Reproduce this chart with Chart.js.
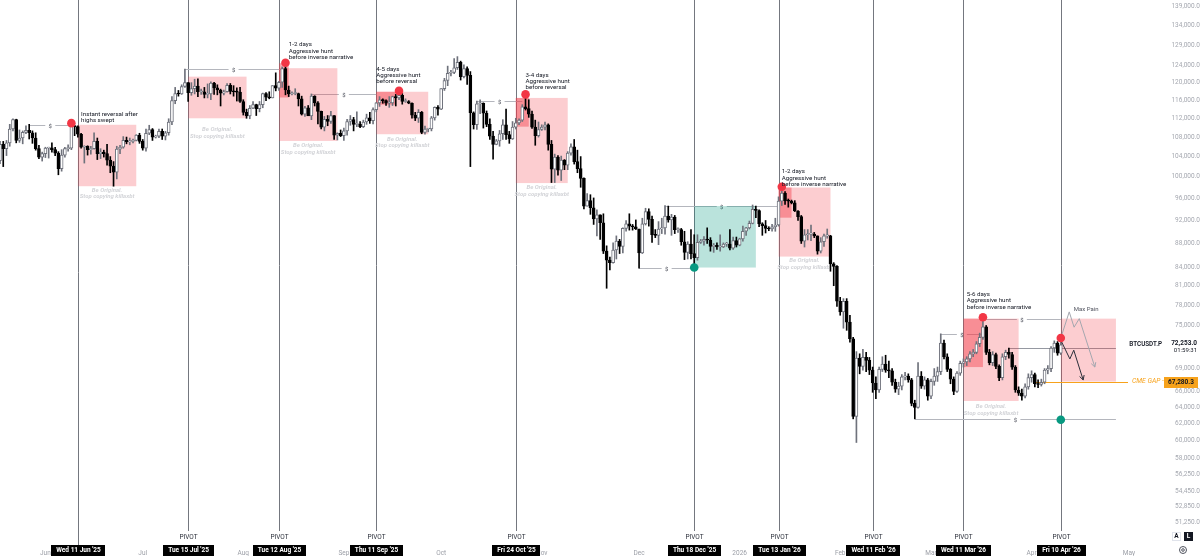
<!DOCTYPE html>
<html><head><meta charset="utf-8">
<script src="https://cdn.jsdelivr.net/npm/chart.js@4.4.1/dist/chart.umd.min.js"></script>
<style>html,body{margin:0;padding:0;background:#fff;overflow:hidden}canvas{display:block}</style>
</head><body>
<canvas id="c" width="1200" height="556"></canvas>
<script>
// ---------- DATA (prices in thousands of USD, daily candles [open, high, low, close]) ----------
const firstCandleDate = '2025-05-18';
const may25 = [[103.2,107.1,102.6,106.5],[106.5,107.1,102.0,105.6],[105.6,107.3,104.2,106.8],[106.8,110.7,106.1,109.7],[109.7,111.9,109.3,111.7],[111.7,111.8,106.8,107.3],[107.3,109.5,106.9,107.8],[107.8,109.3,106.6,109.0],[109.0,110.4,108.7,109.4],[109.4,110.7,107.6,108.9],[108.9,109.3,106.7,107.8],[107.8,108.9,105.3,105.6],[105.6,106.3,103.6,103.9],[103.9,104.9,103.1,104.6]];
const jun25 = [[104.6,105.9,103.8,105.7],[105.7,105.9,103.7,105.8],[105.8,106.8,104.9,105.4],[105.4,105.9,104.2,104.7],[104.7,105.0,100.4,101.6],[101.6,105.4,101.1,104.3],[104.3,105.9,103.9,105.6],[105.6,106.4,105.1,105.7],[105.7,110.6,105.4,110.3],[110.3,110.4,108.3,110.2],[110.2,110.4,108.0,108.6],[108.6,108.8,105.7,105.9],[105.9,106.2,102.7,106.1],[106.1,106.2,104.3,105.4],[105.4,106.1,104.5,105.6],[105.6,108.9,105.5,107.1],[107.1,107.8,103.4,104.6],[104.6,105.6,103.6,104.9],[104.9,105.3,103.9,104.6],[104.6,106.5,102.3,103.3],[103.3,104.0,100.8,102.1],[102.1,103.0,98.2,100.9],[100.9,106.1,99.6,105.5],[105.5,106.3,104.6,105.9],[105.9,108.1,105.7,107.3],[107.3,108.0,106.6,107.0],[107.0,107.8,106.4,107.1],[107.1,107.6,106.8,107.3],[107.3,108.5,107.2,108.4],[108.4,108.8,106.7,107.1]];
const jul25 = [[107.1,107.5,105.3,105.7],[105.7,109.7,105.1,108.8],[108.8,110.5,108.5,109.6],[109.6,109.8,107.3,108.0],[108.0,108.4,107.8,108.2],[108.2,109.7,107.9,109.2],[109.2,109.7,107.5,108.2],[108.2,109.2,107.4,108.9],[108.9,111.9,108.4,111.2],[111.2,116.8,110.6,115.9],[115.9,118.9,115.2,117.5],[117.5,118.2,116.9,117.4],[117.4,119.5,117.3,119.1],[119.1,123.2,118.9,120.0],[120.0,120.0,115.7,117.7],[117.7,120.0,117.1,118.6],[118.6,120.8,117.4,119.2],[119.2,120.9,116.8,117.9],[117.9,118.5,117.3,117.9],[117.9,118.9,116.5,117.3],[117.3,119.7,116.5,117.4],[117.4,120.2,116.1,119.9],[119.9,120.1,117.3,118.8],[118.8,119.5,117.2,118.3],[118.3,118.5,114.7,117.6],[117.6,118.3,117.2,117.9],[117.9,119.8,117.8,119.4],[119.4,119.8,117.4,118.0],[118.0,119.3,116.9,117.9],[117.9,118.8,115.8,117.8],[117.8,118.9,115.5,115.7]];
const aug25 = [[115.7,116.1,112.7,113.3],[113.3,114.0,112.0,112.5],[112.5,114.8,111.9,114.2],[114.2,115.7,114.1,115.0],[115.0,115.1,112.6,114.1],[114.1,115.7,113.4,115.0],[115.0,117.6,114.3,117.5],[117.5,117.7,115.9,116.7],[116.7,117.9,116.3,116.5],[116.5,119.3,116.5,119.3],[119.3,122.3,118.1,118.7],[118.7,120.3,118.2,120.1],[120.1,123.7,118.9,123.3],[123.3,124.5,117.2,118.3],[118.3,119.2,116.8,117.4],[117.4,117.9,117.2,117.5],[117.5,118.6,117.2,117.5],[117.5,117.6,114.7,116.3],[116.3,116.9,112.7,112.9],[112.9,114.6,112.4,114.3],[114.3,114.8,112.6,112.5],[112.5,117.4,111.7,116.9],[116.9,117.0,114.7,115.4],[115.4,115.7,110.8,113.5],[113.5,113.6,109.7,110.1],[110.1,112.4,109.3,111.8],[111.8,112.6,110.4,111.3],[111.3,113.5,110.9,112.6],[112.6,112.6,107.5,108.4],[108.4,108.9,107.4,108.8],[108.8,109.5,108.1,108.3]];
const sep25 = [[108.3,109.9,107.3,109.3],[109.3,111.8,108.4,111.3],[111.3,112.6,110.5,111.7],[111.7,112.2,109.3,110.7],[110.7,113.4,110.2,110.7],[110.7,111.3,110.0,110.2],[110.2,111.6,110.0,111.2],[111.2,112.9,110.7,112.1],[112.1,113.3,110.9,111.5],[111.5,114.3,110.8,113.9],[113.9,115.5,113.4,115.4],[115.4,116.8,114.6,116.1],[116.1,116.3,115.3,115.9],[115.9,116.1,114.8,115.3],[115.3,116.8,114.4,115.4],[115.4,116.9,114.8,116.8],[116.8,117.3,114.7,116.5],[116.5,117.9,116.1,117.1],[117.1,117.5,115.1,115.7],[115.7,116.3,115.5,115.7],[115.7,115.9,115.2,115.3],[115.3,115.4,112.0,112.7],[112.7,113.3,111.5,112.0],[112.0,113.9,111.1,113.3],[113.3,113.5,108.7,109.0],[109.0,110.3,108.6,109.7],[109.7,109.8,109.1,109.7],[109.7,112.4,109.3,112.1],[112.1,114.5,111.6,114.4],[114.4,114.8,112.7,114.0]];
const oct25 = [[114.0,118.6,113.9,118.6],[118.6,121.0,118.2,120.5],[120.5,123.9,119.3,122.2],[122.2,122.9,121.6,122.4],[122.4,125.7,122.1,123.5],[123.5,126.2,123.1,124.8],[124.8,125.1,120.6,121.4],[121.4,124.2,121.1,123.3],[123.3,123.7,119.6,121.7],[121.7,122.6,102.0,113.2],[113.2,113.4,109.7,110.6],[110.6,115.8,109.6,115.2],[115.2,116.1,113.0,115.3],[115.3,115.4,109.9,113.1],[113.1,113.6,110.2,110.7],[110.7,111.9,107.5,108.2],[108.2,109.2,103.5,106.5],[106.5,107.5,106.4,107.2],[107.2,109.4,106.1,108.7],[108.7,111.7,107.5,110.6],[110.6,114.0,107.5,108.5],[108.5,109.2,106.7,107.6],[107.6,111.3,107.5,110.1],[110.1,112.0,109.7,111.0],[111.0,111.9,110.6,111.6],[111.6,115.0,111.3,114.5],[114.5,116.4,113.8,114.1],[114.1,116.1,112.2,112.9],[112.9,113.6,109.8,110.1],[110.1,111.6,106.3,108.3],[108.3,111.2,108.0,109.6]];
const nov25 = [[109.6,110.6,109.4,110.1],[110.1,111.2,109.5,110.6],[110.6,110.8,105.3,106.5],[106.5,107.3,98.9,101.5],[101.5,104.5,98.9,103.9],[103.9,104.2,100.3,101.3],[101.3,104.1,99.3,103.3],[103.3,103.4,101.4,102.3],[102.3,105.0,101.4,104.7],[104.7,106.6,104.3,106.0],[106.0,107.5,102.5,103.0],[103.0,105.3,100.8,101.6],[101.6,104.0,98.0,99.7],[99.7,99.8,94.0,94.5],[94.5,96.8,94.5,95.5],[95.5,96.6,93.0,94.2],[94.2,96.0,91.2,92.2],[92.2,93.8,89.2,92.9],[92.9,92.9,88.6,91.5],[91.5,93.1,86.2,86.6],[86.6,87.5,80.6,85.1],[85.1,85.6,83.5,84.7],[84.7,88.0,84.6,86.8],[86.8,89.2,85.3,88.3],[88.3,88.6,86.2,87.4],[87.4,90.6,86.3,90.5],[90.5,91.9,90.0,91.3],[91.3,93.1,90.2,90.9],[90.9,91.2,90.2,90.8],[90.8,92.0,90.3,90.4]];
const dec25 = [[90.4,90.4,83.8,86.3],[86.3,92.3,86.2,91.3],[91.3,94.1,91.1,93.5],[93.5,94.0,90.9,92.1],[92.1,92.7,88.1,89.4],[89.4,90.3,88.9,89.3],[89.3,91.7,87.7,90.4],[90.4,92.3,89.6,90.6],[90.6,94.6,89.5,92.7],[92.7,94.5,91.6,92.0],[92.0,93.0,89.3,92.5],[92.5,92.8,89.6,90.3],[90.3,90.6,89.8,90.3],[90.3,90.5,87.6,88.2],[88.2,90.0,85.2,86.4],[86.4,88.2,85.3,87.8],[87.8,90.3,85.3,86.2],[86.2,89.4,83.9,85.5],[85.5,89.4,85.1,88.1],[88.1,88.6,87.9,88.3],[88.3,89.1,87.6,88.6],[88.6,90.6,87.9,88.5],[88.5,88.9,86.6,87.4],[87.4,87.9,86.4,87.6],[87.6,88.0,86.9,87.3],[87.3,89.4,86.6,87.3],[87.3,88.0,87.2,87.8],[87.8,88.1,87.4,87.8],[87.8,90.3,86.8,87.1],[87.1,89.0,86.9,88.4],[88.4,89.0,87.3,87.6]];
const jan26 = [[87.6,88.8,87.5,88.7],[88.7,90.9,88.3,90.0],[90.0,90.7,89.3,90.6],[90.6,91.8,90.4,91.4],[91.4,94.7,91.3,93.9],[93.9,94.5,92.4,93.7],[93.7,93.8,90.8,91.3],[91.3,91.5,89.3,91.0],[91.0,91.9,89.7,90.5],[90.5,90.8,90.1,90.4],[90.4,91.2,90.0,90.8],[90.8,92.3,90.0,91.1],[91.1,96.2,90.9,95.4],[95.4,97.9,94.6,96.9],[96.9,97.2,94.8,95.5],[95.5,95.8,94.3,95.4],[95.4,95.6,94.9,95.1],[95.1,95.5,93.5,93.6],[93.6,93.7,91.9,92.6],[92.6,92.8,87.9,88.3],[88.3,90.3,87.3,89.4],[89.4,90.3,88.5,89.5],[89.5,91.1,88.4,89.5],[89.5,89.8,88.9,89.2],[89.2,89.2,86.1,86.6],[86.6,88.9,86.3,88.2],[88.2,89.5,87.4,89.2],[89.2,90.4,88.8,89.2],[89.2,89.3,83.3,84.5],[84.5,84.7,81.0,84.1],[84.1,84.2,77.8,78.6]];
const feb26 = [[78.6,79.2,76.5,77.0],[77.0,79.0,74.6,78.6],[78.6,79.0,74.3,75.5],[75.5,76.5,72.6,73.1],[73.1,73.3,62.6,62.9],[62.9,71.3,59.8,70.4],[70.4,71.0,68.3,69.3],[69.3,71.6,68.8,70.5],[70.5,71.2,68.6,70.1],[70.1,70.5,68.2,68.8],[68.8,69.2,65.9,67.1],[67.1,67.9,65.1,66.2],[66.2,69.2,65.9,68.9],[68.9,70.6,68.6,69.6],[69.6,70.8,68.5,68.8],[68.8,70.0,67.8,68.7],[68.7,69.0,66.8,67.2],[67.2,67.6,65.9,66.3],[66.3,67.2,65.6,66.7],[66.7,68.2,66.2,67.9],[67.9,68.5,67.5,68.0],[68.0,68.3,67.2,67.5],[67.5,67.7,64.2,64.5],[64.5,64.9,62.6,64.0],[64.0,69.8,63.9,68.0],[68.0,68.6,66.4,66.7],[66.7,67.9,66.3,67.5],[67.5,67.7,64.9,65.4]];
const mar26 = [[65.4,67.6,65.1,67.3],[67.3,69.0,66.8,68.0],[68.0,69.2,67.3,68.6],[68.6,73.8,68.2,72.5],[72.5,72.9,70.3,70.6],[70.6,71.0,68.6,68.9],[68.9,69.0,67.0,67.6],[67.6,67.9,65.6,66.0],[66.0,68.6,65.9,68.4],[68.4,70.0,68.1,69.7],[69.7,70.3,69.2,69.9],[69.9,70.6,69.4,70.3],[70.3,71.3,69.9,71.0],[71.0,71.6,70.6,71.2],[71.2,72.7,71.0,72.4],[72.4,73.9,72.0,73.3],[73.3,76.0,73.0,74.8],[74.8,75.0,70.9,71.2],[71.2,71.6,69.5,69.8],[69.8,71.3,69.4,70.9],[70.9,71.1,69.0,69.3],[69.3,69.5,67.4,67.8],[67.8,71.0,67.5,70.6],[70.6,71.5,70.2,71.2],[71.2,71.8,70.4,70.9],[70.9,71.2,68.9,69.2],[69.2,69.4,65.9,66.2],[66.2,66.6,65.5,65.8],[65.8,66.3,64.9,65.4],[65.4,67.0,65.2,66.6],[66.6,68.3,66.3,67.8]];
const apr26 = [[67.8,68.7,67.2,68.2],[68.2,68.4,66.6,67.0],[67.0,67.5,66.5,66.9],[66.9,67.6,66.7,67.2],[67.2,69.0,67.0,68.8],[68.8,69.4,68.3,69.0],[69.0,72.0,68.6,71.8],[71.8,72.8,71.2,72.5],[72.5,72.7,70.8,71.1],[71.1,73.0,70.9,72.253]];

const lastPrice = 72253.0;
const cmeGapPrice = 67280.3;
const priceAxisTop = 140814;
const priceAxisBottom = 49134;
const yTicks = [139000,134000,129000,124000,120000,116000,112000,108000,104000,100000,96000,92000,88000,84000,81000,78000,75000,69000,66000,64000,62000,60000,58000,56250,54450,52850,51250];
const monthStarts = ['2025-06-01','2025-07-01','2025-08-01','2025-09-01','2025-10-01','2025-11-01','2025-12-01','2026-01-01','2026-02-01','2026-03-01','2026-04-01','2026-05-01'];
const monthLabels = ['Jun','Jul','Aug','Sep','Oct','Nov','Dec','2026','Feb','Mar','Apr','May'];
const pivotDates = ['2025-06-11','2025-07-15','2025-08-12','2025-09-11','2025-10-24','2025-12-18','2026-01-13','2026-02-11','2026-03-11','2026-04-10'];
const pivotLabels = ["Wed 11 Jun '25","Tue 15 Jul '25","Tue 12 Aug '25","Thu 11 Sep '25","Fri 24 Oct '25","Thu 18 Dec '25","Tue 13 Jan '26","Wed 11 Feb '26","Wed 11 Mar '26","Fri 10 Apr '26"];
// hunt zones: [from, to, top, bottom]
const huntZones = [['2025-06-11','2025-06-29',110600,98200],['2025-07-15','2025-08-02',121400,112000],['2025-08-12','2025-08-30',123400,107200],['2025-09-11','2025-09-27',117900,108600],['2025-10-24','2025-11-09',116500,98800],['2026-01-13','2026-01-29',97950,85700],['2026-03-11','2026-03-28',76000,64800],['2026-04-10','2026-04-27',76000,67280]];
const huntCores = [['2025-08-12','2025-08-15',124600,116600],['2025-09-11','2025-09-17',117900,115000],['2025-10-24','2025-10-28',116500,110200],['2026-01-13','2026-01-17',97950,92400],['2026-03-11','2026-03-17',76000,69200]];
const accumZone = ['2025-12-18','2026-01-06',94500,83900];
const watermarkPrices = [97400,109500,106200,107500,97950,84970,64100];
// liquidity lines: [from, to, price]
const sweepLines = [['2025-05-27','2025-06-09',110600],['2025-07-14','2025-08-13',123200],['2025-08-22','2025-09-11',117500],['2025-10-12','2025-10-26',115900],['2025-12-09','2026-01-13',94500],['2025-12-01','2025-12-18',83900],['2026-03-04','2026-03-17',73800],['2026-03-17','2026-04-10',76000],['2026-02-24','2026-04-27',62600]];
const levelLine = ['2026-03-25','2026-04-27',71800];
const cmeFrom = '2026-04-02';
const redDots = [['2025-06-09',110950],['2025-08-14',124700],['2025-09-18',118100],['2025-10-27',117300],['2026-01-14',98100],['2026-03-17',76200],['2026-04-10',73200]];
const tealDots = [['2025-12-18',83900],['2026-04-10',62500]];
const notes = [['2025-06-12',112900,['Instant reversal after','highs swept']],['2025-08-15',129100,['1-2 days','Aggressive hunt','before inverse narrative']],['2025-09-11',123100,['4-5 days','Aggressive hunt','before reversal']],['2025-10-27',121800,['3-4 days','Aggressive hunt','before reversal']],['2026-01-14',100960,['1-2 days','Aggressive hunt','before inverse narrative']],['2026-03-12',79600,['5-6 days','Aggressive hunt','before inverse narrative']]];
const maxPainDays = [0,2.6,4.1,5.7,10.5];
const maxPainPrices = [73200,77000,74750,76000,69200];
const baseDays = [0,2.8,4.0,6.9];
const basePrices = [72900,70300,71500,67500];
const projectionFrom = '2026-04-10';
const maxPainLabel = ['2026-04-14',77300];

// ---------- helpers ----------
const fc = firstCandleDate.split('-').map(Number);
const BASE = Date.UTC(fc[0], fc[1]-1, fc[2]);
function dayIdx(s){const p=s.split('-').map(Number);return Math.round((Date.UTC(p[0],p[1]-1,p[2])-BASE)/864e5);}
const candles = [].concat(may25,jun25,jul25,aug25,sep25,oct25,nov25,dec25,jan26,feb26,mar26,apr26);
const isUp = i => candles[i][3] >= candles[i][0];
const fmt = v => v.toLocaleString('en-US',{minimumFractionDigits:1,maximumFractionDigits:1});
const FONT = 'Roboto, "Liberation Sans", sans-serif';
const UP_COL = '#6f727c', DN_COL = '#000000';

const overlay = {
  id: 'overlay',
  beforeDatasetsDraw(chart) {
    const {ctx, chartArea: ca, scales: {x, y}} = chart;
    const X = d => x.getPixelForValue(typeof d === 'string' ? dayIdx(d) : d);
    const Y = v => y.getPixelForValue(v);
    ctx.save();
    ctx.strokeStyle = '#74777f'; ctx.lineWidth = 1;
    pivotDates.forEach((d,k)=>{
      const xx = Math.round(X(d)) + 0.5;
      ctx.beginPath(); ctx.moveTo(xx, 0); ctx.lineTo(xx, k===0 ? chart.height - 11 : chart.height - 25); ctx.stroke();
    });
    ctx.font = '6px ' + FONT; ctx.textAlign = 'center'; ctx.textBaseline = 'middle';
    sweepLines.forEach(([a,b,p])=>{
      const x1 = X(a), x2 = X(b), yy = Math.round(Y(p)) + 0.5, xm = (x1+x2)/2;
      ctx.strokeStyle = '#b4b6bd'; ctx.lineWidth = 1;
      ctx.beginPath(); ctx.moveTo(x1, yy); ctx.lineTo(xm-5, yy); ctx.moveTo(xm+5, yy); ctx.lineTo(x2, yy); ctx.stroke();
      ctx.fillStyle = '#50535e'; ctx.fillText('$', xm, yy+0.5);
    });
    ctx.strokeStyle = '#9598a1';
    let yy = Math.round(Y(levelLine[2])) + 0.5;
    ctx.beginPath(); ctx.moveTo(X(levelLine[0]), yy); ctx.lineTo(X(levelLine[1]), yy); ctx.stroke();
    ctx.strokeStyle = '#f7a21b';
    yy = Math.round(Y(cmeGapPrice)) + 0.5;
    ctx.beginPath(); ctx.moveTo(X(cmeFrom), yy); ctx.lineTo(ca.right - 22, yy); ctx.stroke();
    ctx.fillStyle = 'rgba(242,54,69,0.25)';
    huntZones.forEach(([a,b,t,bt])=>{ ctx.fillRect(X(a), Y(t), X(b)-X(a), Y(bt)-Y(t)); });
    ctx.fillStyle = 'rgba(242,54,69,0.42)';
    huntCores.forEach(([a,b,t,bt])=>{ ctx.fillRect(X(a), Y(t), X(b)-X(a), Y(bt)-Y(t)); });
    ctx.fillStyle = 'rgba(8,153,129,0.28)';
    ctx.fillRect(X(accumZone[0]), Y(accumZone[2]), X(accumZone[1])-X(accumZone[0]), Y(accumZone[3])-Y(accumZone[2]));
    ctx.font = 'italic bold 6px ' + FONT; ctx.fillStyle = '#d3d4d8'; ctx.textAlign = 'center';
    watermarkPrices.forEach((p,k)=>{
      const z = huntZones[k]; const cx = (X(z[0]) + X(z[1]))/2; const ty = Y(p);
      ctx.fillText('Be Original.', cx, ty);
      ctx.fillText('Stop copying killaxbt', cx, ty + 6.5);
    });
    ctx.restore();
  },
  afterDatasetsDraw(chart) {
    const {ctx, scales: {x, y}} = chart;
    const X = d => x.getPixelForValue(typeof d === 'string' ? dayIdx(d) : d);
    const Y = v => y.getPixelForValue(v);
    ctx.save();
    const p0 = dayIdx(projectionFrom);
    const path = (days, prices, col) => {
      ctx.strokeStyle = col; ctx.lineWidth = 1;
      ctx.beginPath();
      days.forEach((d,i)=>{ const px = X(p0 + d), py = Y(prices[i]); i ? ctx.lineTo(px,py) : ctx.moveTo(px,py); });
      ctx.stroke();
      const n = days.length; const ax = X(p0+days[n-1]), ay = Y(prices[n-1]);
      const bx = X(p0+days[n-2]), by = Y(prices[n-2]);
      const ang = Math.atan2(ay-by, ax-bx);
      ctx.beginPath();
      ctx.moveTo(ax - 5*Math.cos(ang-0.5), ay - 5*Math.sin(ang-0.5)); ctx.lineTo(ax, ay);
      ctx.lineTo(ax - 5*Math.cos(ang+0.5), ay - 5*Math.sin(ang+0.5));
      ctx.stroke();
    };
    path(maxPainDays, maxPainPrices, '#a3a6ae');
    path(baseDays, basePrices, '#2a2e39');
    ctx.font = '6px ' + FONT; ctx.fillStyle = '#50535e'; ctx.textAlign = 'left'; ctx.textBaseline = 'middle';
    ctx.fillText('Max Pain', X(maxPainLabel[0]), Y(maxPainLabel[1]));
    ctx.fillStyle = '#f23645';
    redDots.forEach(([d,p])=>{ ctx.beginPath(); ctx.arc(X(d), Y(p), 4.3, 0, Math.PI*2); ctx.fill(); });
    ctx.fillStyle = '#089981';
    tealDots.forEach(([d,p])=>{ ctx.beginPath(); ctx.arc(X(d), Y(p), 4.3, 0, Math.PI*2); ctx.fill(); });
    ctx.font = '6.2px ' + FONT; ctx.fillStyle = '#131722'; ctx.textAlign = 'left';
    notes.forEach(([d,p,lines])=>{
      const tx = X(d), ty = Y(p);
      lines.forEach((s,i)=>ctx.fillText(s, tx, ty + i*6.2));
    });
    ctx.restore();
  },
  afterDraw(chart) {
    const {ctx, chartArea: ca, scales: {x, y}} = chart;
    const X = d => x.getPixelForValue(typeof d === 'string' ? dayIdx(d) : d);
    const Y = v => y.getPixelForValue(v);
    const W = chart.width, H = chart.height;
    ctx.save();
    ctx.textAlign = 'center'; ctx.textBaseline = 'middle';
    pivotDates.forEach((d,k)=>{
      const xx = Math.round(X(d)) + 0.5;
      if (k > 0) { ctx.font = '6.5px ' + FONT; ctx.fillStyle = '#2a2e39'; ctx.fillText('PIVOT', xx, H - 19); }
      ctx.font = 'bold 6.5px ' + FONT;
      const w = ctx.measureText(pivotLabels[k]).width + 10;
      ctx.fillStyle = '#000'; ctx.fillRect(Math.round(xx - w/2), H - 11, Math.round(w), 11);
      ctx.fillStyle = '#fff'; ctx.fillText(pivotLabels[k], xx, H - 5.2);
    });
    const yl = Y(lastPrice);
    ctx.textAlign = 'right';
    ctx.font = '600 6.3px ' + FONT; ctx.fillStyle = '#131722';
    ctx.fillText('BTCUSDT.P', W - 38, yl);
    ctx.font = 'bold 6.5px ' + FONT; ctx.fillText(fmt(lastPrice), W - 3, yl - 1.5);
    ctx.font = '6px ' + FONT; ctx.fillText('01:59:31', W - 3, yl + 5.5);
    const yc = Y(cmeGapPrice);
    ctx.font = 'italic 6.8px ' + FONT; ctx.fillStyle = '#f7a21b'; ctx.textAlign = 'left';
    ctx.fillText('CME GAP -', ca.right - 18, yc);
    ctx.fillStyle = '#f7a21b'; ctx.fillRect(W - 36, Math.round(yc) - 5, 34, 11);
    ctx.font = 'bold 6.5px ' + FONT; ctx.fillStyle = '#131722'; ctx.textAlign = 'center';
    ctx.fillText(fmt(cmeGapPrice), W - 19, yc + 0.5);
    ctx.font = 'bold 6.5px ' + FONT;
    ctx.strokeStyle = '#e0e3eb'; ctx.lineWidth = 1;
    ctx.strokeRect(W - 27.5, H - 23.5, 8, 8);
    ctx.fillStyle = '#131722'; ctx.fillText('A', W - 23.5, H - 19.3);
    ctx.fillStyle = '#131722'; ctx.fillRect(W - 16, H - 24, 9, 9);
    ctx.fillStyle = '#ffffff'; ctx.fillText('L', W - 11.5, H - 19.3);
    ctx.strokeStyle = '#50535e';
    ctx.beginPath(); ctx.arc(W - 17, H - 6, 3.5, 0, Math.PI*2); ctx.stroke();
    ctx.beginPath(); ctx.arc(W - 17, H - 6, 1.3, 0, Math.PI*2); ctx.stroke();
    ctx.restore();
  }
};

const PX_PER_DAY = 3.244;
const PLOT_RIGHT = 1150;
new Chart(document.getElementById('c'), {
  type: 'bar',
  data: {
    datasets: [
      { label: 'body', order: 0, grouped: false, barThickness: 3, borderWidth: 1, borderSkipped: false, minBarLength: 1,
        data: candles.map((c,i)=>({x: i, y: [c[0]*1000, c[3]*1000]})),
        backgroundColor: ctx => isUp(ctx.dataIndex) ? '#ffffff' : DN_COL,
        borderColor: ctx => isUp(ctx.dataIndex) ? UP_COL : DN_COL },
      { label: 'wick', order: 1, grouped: false, barThickness: 1, borderWidth: 0,
        data: candles.map((c,i)=>({x: i, y: [c[2]*1000, c[1]*1000]})),
        backgroundColor: ctx => isUp(ctx.dataIndex) ? UP_COL : DN_COL }
    ]
  },
  options: {
    responsive: false, devicePixelRatio: 1, animation: false, events: [],
    layout: { padding: 0 },
    plugins: { legend: { display: false }, tooltip: { enabled: false } },
    scales: {
      x: { type: 'linear', offset: false, bounds: 'data', min: 0, max: PLOT_RIGHT / PX_PER_DAY,
        grid: { display: false, drawTicks: false }, border: { display: false },
        afterBuildTicks: s => { s.ticks = monthStarts.map(d => ({ value: dayIdx(d) })); },
        afterFit: s => { s.height = 12; },
        ticks: { autoSkip: false, maxRotation: 0, padding: 5, color: '#9b9ea6',
          font: { size: 6.5, family: FONT }, callback: (v, i) => monthLabels[i] } },
      y: { type: 'logarithmic', position: 'right', bounds: 'data', beginAtZero: false,
        min: priceAxisBottom, max: priceAxisTop,
        grid: { display: false, drawTicks: false }, border: { display: false },
        afterBuildTicks: s => { s.ticks = yTicks.map(v => ({ value: v })); },
        afterFit: s => { s.width = 1200 - PLOT_RIGHT; s.paddingTop = 0; s.paddingBottom = 0; },
        ticks: { autoSkip: false, crossAlign: 'far', padding: 14, color: '#a5a8b0',
          font: { size: 6.5, family: FONT }, callback: v => fmt(v) } }
    }
  },
  plugins: [overlay]
});
</script>
</body></html>
